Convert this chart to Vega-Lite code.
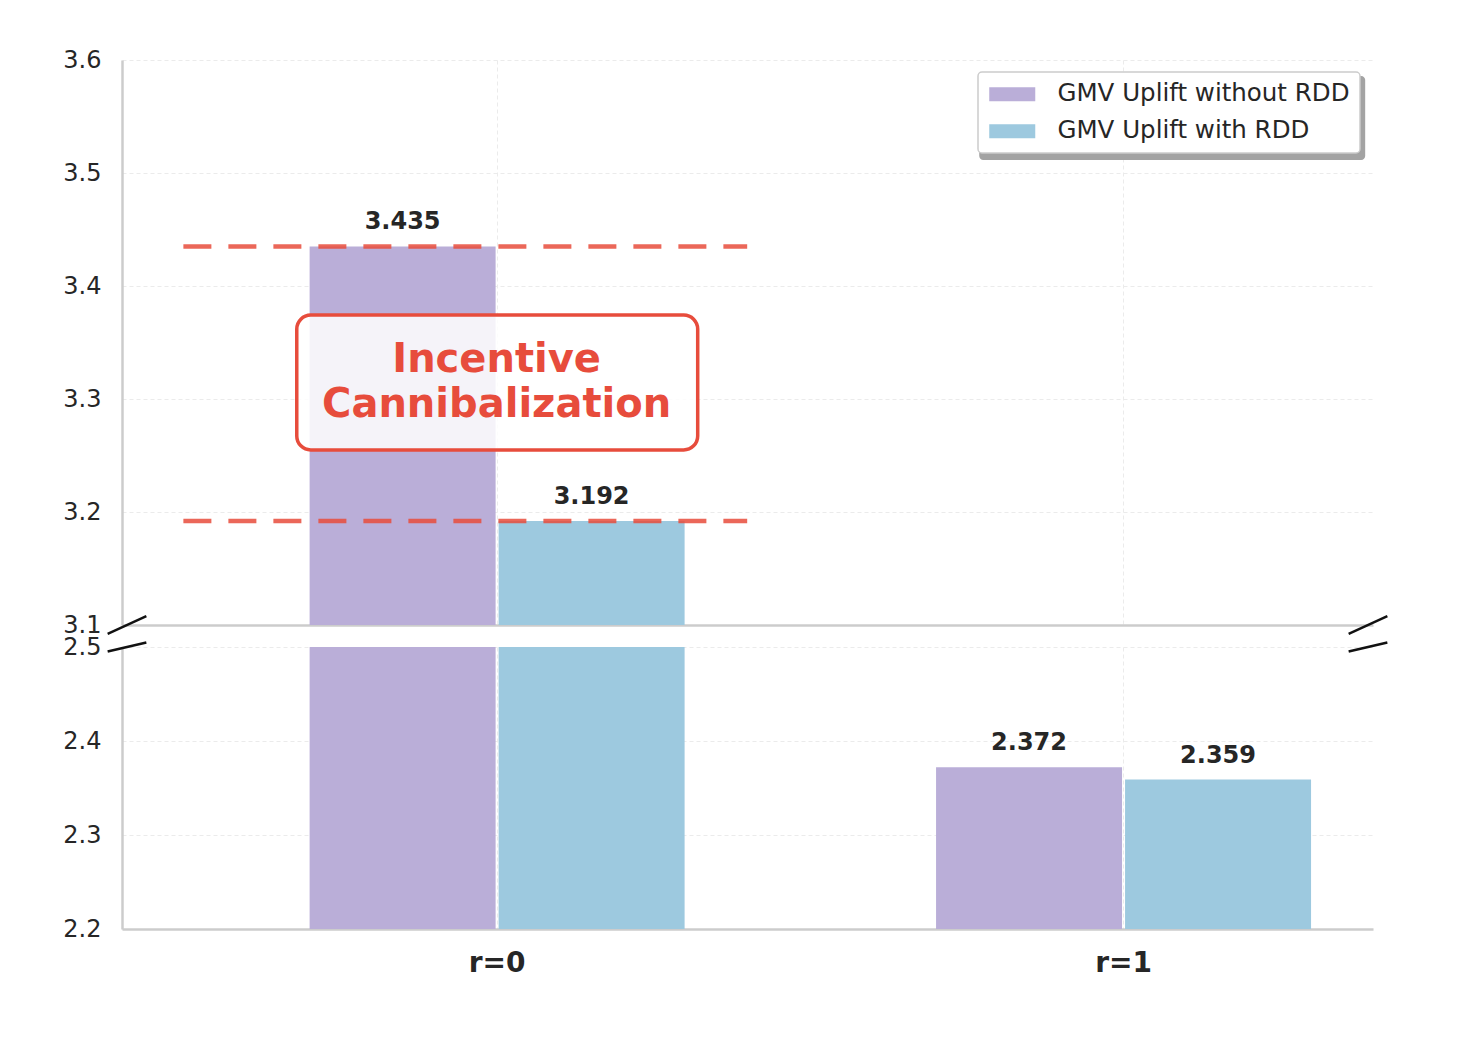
{
  "$schema": "https://vega.github.io/schema/vega-lite/v6.json",
  "autosize": {"type": "pad"},
  "padding": {"left": 62, "top": 48, "right": 5, "bottom": 5},
  "background": "white",
  "bounds": "flush",
  "spacing": 22,
  "config": {
    "view": {"stroke": null},
    "font": "DejaVu Sans",
    "axis": {
      "domainColor": "#cccccc", "domainWidth": 2.5, "ticks": false,
      "gridColor": "#ebebeb", "gridDash": [4, 3], "gridWidth": 1,
      "labelColor": "#262626", "labelFont": "DejaVu Sans", "labelFontSize": 24,
      "labelFlush": false, "labelOverlap": false, "labelBound": false
    },
    "legend": {
      "orient": "none", "legendX": 856, "legendY": 12,
      "fillColor": "white", "strokeColor": "#cccccc", "strokeWidth": 1.5, "cornerRadius": 4,
      "padding": 10, "symbolType": "M-0.917,-0.583H2.917V0.583H-0.917Z", "symbolSize": 576,
      "symbolStrokeWidth": 0, "symbolOpacity": 1, "labelFontSize": 24.5, "labelColor": "#262626",
      "labelFont": "DejaVu Sans", "labelOffset": 45, "rowPadding": 12, "labelLimit": 0
    }
  },
  "datasets": {
    "bars": [
      {"r": 0, "series": "GMV Uplift without RDD", "value": 3.435},
      {"r": 0, "series": "GMV Uplift with RDD", "value": 3.192},
      {"r": 1, "series": "GMV Uplift without RDD", "value": 2.372},
      {"r": 1, "series": "GMV Uplift with RDD", "value": 2.359}
    ]
  },
  "data": {"name": "bars"},
  "vconcat": [
    {
      "width": 1251,
      "height": 565,
      "layer": [
        {
          "data": {"values": [{}]},
          "mark": {"type": "rect", "color": "#a3a3a3", "cornerRadius": 4},
          "encoding": {
            "x": {"datum": 0.7704, "type": "quantitative", "scale": {"domain": [-0.59, 1.391], "nice": false}},
            "x2": {"datum": 1.3865},
            "y": {"datum": 3.5858, "type": "quantitative", "scale": {"domain": [3.1, 3.6], "zero": false, "nice": false}},
            "y2": {"datum": 3.5115}
          }
        },
        {
          "transform": [{"filter": "datum.series === 'GMV Uplift without RDD'"}],
          "layer": [
            {
              "mark": {"type": "bar", "width": 186, "xOffset": -94, "clip": true},
              "encoding": {
                "x": {"field": "r", "type": "quantitative", "title": null,
                      "scale": {"domain": [-0.59, 1.391], "nice": false},
                      "axis": {"values": [0, 1], "labels": false, "grid": true}},
                "y": {"field": "value", "type": "quantitative", "title": null,
                      "scale": {"domain": [3.1, 3.6], "zero": false, "nice": false},
                      "axis": {"values": [3.1, 3.2, 3.3, 3.4, 3.5, 3.6], "format": ".1f", "labelPadding": 21, "grid": true}},
                "color": {"field": "series", "type": "nominal", "title": null,
                          "scale": {"domain": ["GMV Uplift without RDD", "GMV Uplift with RDD"], "range": ["#BAAED8", "#9DC9DF"]}}
              }
            },
            {
              "transform": [{"filter": "datum.value > 3.1"}],
              "mark": {"type": "text", "xOffset": -94, "dy": -24, "baseline": "middle", "fontSize": 24, "fontWeight": "bold", "color": "#262626"},
              "encoding": {
                "x": {"field": "r", "type": "quantitative"},
                "y": {"field": "value", "type": "quantitative"},
                "text": {"field": "value", "type": "quantitative", "format": ".3f"}
              }
            }
          ]
        },
        {
          "transform": [{"filter": "datum.series === 'GMV Uplift with RDD'"}],
          "layer": [
            {
              "mark": {"type": "bar", "width": 186, "xOffset": 95, "clip": true},
              "encoding": {
                "x": {"field": "r", "type": "quantitative"},
                "y": {"field": "value", "type": "quantitative"},
                "color": {"field": "series", "type": "nominal", "title": null}
              }
            },
            {
              "transform": [{"filter": "datum.value > 3.1"}],
              "mark": {"type": "text", "xOffset": 95, "dy": -24, "baseline": "middle", "fontSize": 24, "fontWeight": "bold", "color": "#262626"},
              "encoding": {
                "x": {"field": "r", "type": "quantitative"},
                "y": {"field": "value", "type": "quantitative"},
                "text": {"field": "value", "type": "quantitative", "format": ".3f"}
              }
            }
          ]
        },
        {
          "transform": [{"filter": "datum.r === 0"}],
          "mark": {"type": "rule", "color": "#E74C3C", "opacity": 0.85, "strokeWidth": 4.5, "strokeDash": [28, 17]},
          "encoding": {
            "x": {"datum": -0.5, "type": "quantitative"},
            "x2": {"datum": 0.4},
            "y": {"field": "value", "type": "quantitative"}
          }
        },
        {
          "data": {"values": [{}]},
          "mark": {"type": "rect", "fill": "white", "fillOpacity": 0.85, "stroke": "#E74C3C", "strokeWidth": 3.5, "cornerRadius": 14},
          "encoding": {
            "x": {"datum": -0.319, "type": "quantitative"},
            "x2": {"datum": 0.321},
            "y": {"datum": 3.3743, "type": "quantitative"},
            "y2": {"datum": 3.2549}
          }
        },
        {
          "data": {"values": [{"label": ["Incentive", "Cannibalization"]}]},
          "mark": {"type": "text", "fontSize": 40, "fontWeight": "bold", "color": "#E74C3C", "lineHeight": 45, "baseline": "middle", "align": "center"},
          "encoding": {
            "x": {"datum": 0, "type": "quantitative"},
            "y": {"datum": 3.3345, "type": "quantitative"},
            "text": {"field": "label"}
          }
        },
        {
          "data": {"values": [{}]},
          "mark": {"type": "rule", "color": "#111111", "strokeWidth": 2.5},
          "encoding": {
            "x": {"datum": -0.6209, "type": "quantitative"},
            "x2": {"datum": -0.5591},
            "y": {"datum": 3.0922, "type": "quantitative"},
            "y2": {"datum": 3.1078}
          }
        },
        {
          "data": {"values": [{}]},
          "mark": {"type": "rule", "color": "#111111", "strokeWidth": 2.5},
          "encoding": {
            "x": {"datum": 1.3601, "type": "quantitative"},
            "x2": {"datum": 1.4219},
            "y": {"datum": 3.0922, "type": "quantitative"},
            "y2": {"datum": 3.1078}
          }
        }
      ]
    },
    {
      "width": 1251,
      "height": 282,
      "layer": [
        {
          "transform": [{"filter": "datum.series === 'GMV Uplift without RDD'"}],
          "layer": [
            {
              "mark": {"type": "bar", "width": 186, "xOffset": -94, "clip": true},
              "encoding": {
                "x": {"field": "r", "type": "quantitative", "title": null,
                      "scale": {"domain": [-0.59, 1.391], "nice": false},
                      "axis": {"values": [0, 1], "grid": true, "labelExpr": "'r=' + datum.value", "labelFontSize": 28, "labelFontWeight": "bold", "labelPadding": 20}},
                "y": {"field": "value", "type": "quantitative", "title": null,
                      "scale": {"domain": [2.2, 2.5], "zero": false, "nice": false},
                      "axis": {"values": [2.2, 2.3, 2.4, 2.5], "format": ".1f", "labelPadding": 21, "grid": true}},
                "color": {"field": "series", "type": "nominal", "title": null}
              }
            },
            {
              "transform": [{"filter": "datum.value < 2.5"}],
              "mark": {"type": "text", "xOffset": -94, "dy": -24, "baseline": "middle", "fontSize": 24, "fontWeight": "bold", "color": "#262626"},
              "encoding": {
                "x": {"field": "r", "type": "quantitative"},
                "y": {"field": "value", "type": "quantitative"},
                "text": {"field": "value", "type": "quantitative", "format": ".3f"}
              }
            }
          ]
        },
        {
          "transform": [{"filter": "datum.series === 'GMV Uplift with RDD'"}],
          "layer": [
            {
              "mark": {"type": "bar", "width": 186, "xOffset": 95, "clip": true},
              "encoding": {
                "x": {"field": "r", "type": "quantitative"},
                "y": {"field": "value", "type": "quantitative"},
                "color": {"field": "series", "type": "nominal", "title": null}
              }
            },
            {
              "transform": [{"filter": "datum.value < 2.5"}],
              "mark": {"type": "text", "xOffset": 95, "dy": -24, "baseline": "middle", "fontSize": 24, "fontWeight": "bold", "color": "#262626"},
              "encoding": {
                "x": {"field": "r", "type": "quantitative"},
                "y": {"field": "value", "type": "quantitative"},
                "text": {"field": "value", "type": "quantitative", "format": ".3f"}
              }
            }
          ]
        },
        {
          "data": {"values": [{}]},
          "mark": {"type": "rule", "color": "#111111", "strokeWidth": 2.5},
          "encoding": {
            "x": {"datum": -0.6209, "type": "quantitative"},
            "x2": {"datum": -0.5591},
            "y": {"datum": 2.4953, "type": "quantitative"},
            "y2": {"datum": 2.5047}
          }
        },
        {
          "data": {"values": [{}]},
          "mark": {"type": "rule", "color": "#111111", "strokeWidth": 2.5},
          "encoding": {
            "x": {"datum": 1.3601, "type": "quantitative"},
            "x2": {"datum": 1.4219},
            "y": {"datum": 2.4953, "type": "quantitative"},
            "y2": {"datum": 2.5047}
          }
        }
      ]
    }
  ]
}
